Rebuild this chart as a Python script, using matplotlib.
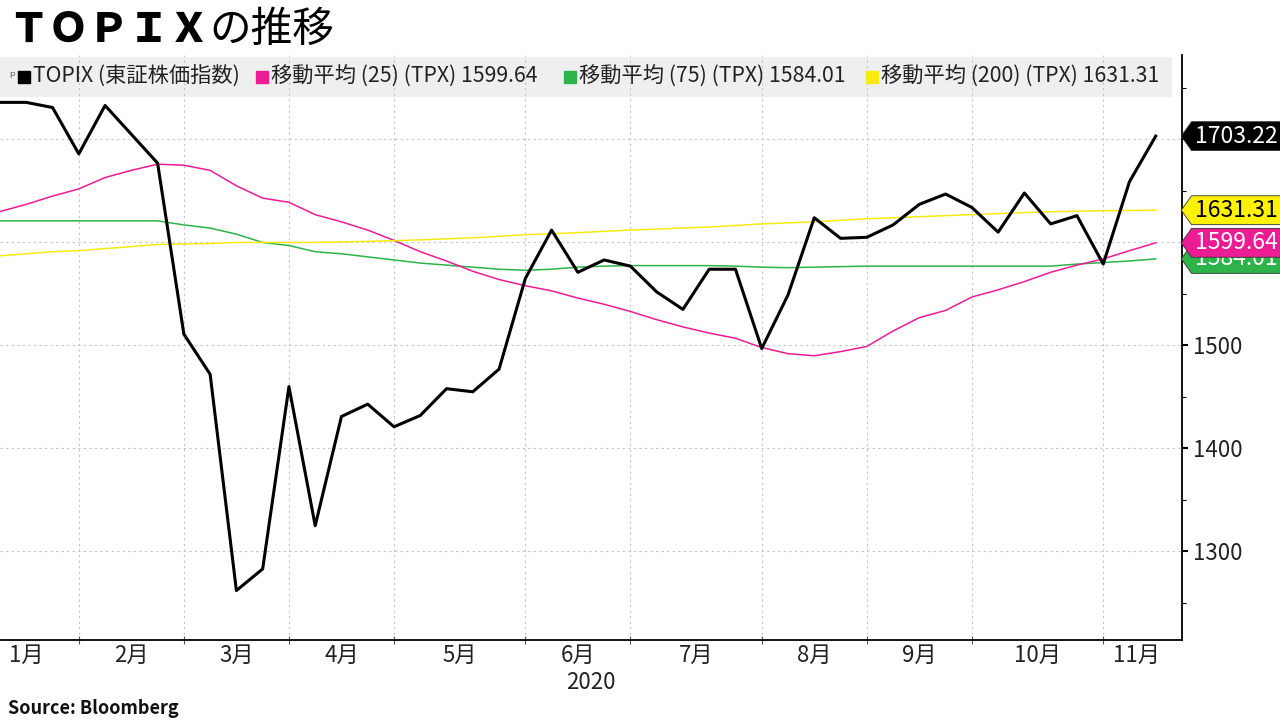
import matplotlib
matplotlib.use("Agg")
import matplotlib.pyplot as plt
import matplotlib.transforms as mtransforms
from matplotlib.path import Path
from matplotlib.patches import Rectangle
from matplotlib.ticker import MultipleLocator, FixedLocator, FuncFormatter
import numpy as np

plt.rcParams['font.family'] = ['Noto Sans CJK JP', 'DejaVu Sans']

# weekly closes, 2020 (week index 0 = mid January)
topix = [1736, 1736, 1731, 1686, 1733, 1705, 1677, 1511, 1472, 1262,
         1283, 1460, 1325, 1431, 1443, 1421, 1432, 1458, 1455, 1477,
         1565, 1612, 1571, 1583, 1577, 1552, 1535, 1574, 1574, 1497,
         1549, 1624, 1604, 1605, 1617, 1637, 1647, 1634, 1610, 1648,
         1618, 1626, 1579, 1659, 1703.22]
ma25 = [1630, 1637, 1645, 1652, 1663, 1670, 1676, 1675, 1670, 1655,
        1643, 1639, 1627, 1620, 1612, 1602, 1591, 1582, 1572, 1564,
        1558, 1553, 1546, 1540, 1533, 1525, 1518, 1512, 1507, 1498,
        1492, 1490, 1494, 1499, 1514, 1527, 1534, 1547, 1554, 1562,
        1571, 1578, 1584, 1592, 1599.64]
ma75 = [1621, 1621, 1621, 1621, 1621, 1621, 1621, 1617, 1614, 1608,
        1600, 1597, 1591, 1589, 1586, 1583, 1580, 1578, 1576, 1574,
        1573, 1574, 1576, 1577, 1577.5, 1577.5, 1577.5, 1577.5, 1577, 1576,
        1575.5, 1576, 1576.5, 1577, 1577, 1577, 1577, 1577, 1577, 1577,
        1577, 1579, 1580.5, 1582, 1584.01]
ma200 = [1587, 1589, 1591, 1592, 1594, 1596, 1598, 1598.5, 1599, 1600,
         1600, 1600, 1600, 1600.5, 1601, 1601.7, 1602.5, 1603.5, 1604.5, 1606,
         1607.5, 1608.5, 1609.5, 1610.8, 1612, 1613, 1614, 1615, 1616.5, 1618,
         1619, 1620, 1621.5, 1623, 1624, 1625, 1626, 1627, 1628, 1629,
         1629.8, 1630.3, 1630.8, 1631, 1631.31]
weeks = np.arange(len(topix))

month_labels = ['1月', '2月', '3月', '4月', '5月', '6月', '7月', '8月', '9月', '10月', '11月']
month_starts = [3, 7, 11, 15, 20, 24, 29, 33, 37, 42]   # first week of each month
month_bounds = [-1] + month_starts + [44.5]
month_mid = [(a + b) / 2 for a, b in zip(month_bounds[:-1], month_bounds[1:])]

c_black = '#000000'
c_pink = '#ec1c94'
c_green = '#2db34a'
c_yellow = '#f7ea10'

fig = plt.figure(figsize=(12.8, 7.2), dpi=100)
ax = fig.add_axes([0, 80 / 720, 1182 / 1280, 585 / 720])
ax.set_axisbelow(True)

ax.plot(weeks, ma75, color=c_green, lw=1.1, zorder=3)
ax.plot(weeks, ma25, color=c_pink, lw=1.1, zorder=4)
ax.plot(weeks, ma200, color=c_yellow, lw=1.1, zorder=4)
ax.plot(weeks, topix, color=c_black, lw=2.2, zorder=5)

ax.set_xlim(0, 45)
ax.set_ylim(1214, 1782)

for s in ['left', 'top']:
    ax.spines[s].set_visible(False)
ax.spines['right'].set_linewidth(1.3)
ax.spines['bottom'].set_linewidth(1.3)

last_vals = [topix[-1], ma25[-1], ma75[-1], ma200[-1]]


def ylab(v, pos):
    # labels sitting under a value tag are hidden, as in the reference
    if any(abs(v - lv) < 12 for lv in last_vals):
        return ''
    return f'{v:.0f}'


ax.yaxis.tick_right()
ax.yaxis.set_major_locator(MultipleLocator(100))
ax.yaxis.set_minor_locator(MultipleLocator(50))
ax.yaxis.set_major_formatter(FuncFormatter(ylab))
ax.tick_params(axis='y', which='major', direction='out', length=4, width=1.5,
               pad=4, labelsize=16, labelcolor='#222222')
ax.tick_params(axis='y', which='minor', direction='out', length=3, width=0.8)

ax.xaxis.set_major_locator(FixedLocator(month_starts))
ax.xaxis.set_minor_locator(FixedLocator(month_mid))
ax.xaxis.set_major_formatter(plt.NullFormatter())
ax.xaxis.set_minor_formatter(plt.FixedFormatter(month_labels))
ax.tick_params(axis='x', which='major', direction='inout', length=6, width=0.8, color='#555555')
ax.tick_params(axis='x', which='minor', length=0, pad=3, labelsize=16, labelcolor='#222222')

ax.grid(True, which='major', color='#c4c4c4', linestyle=(0, (2, 3)), linewidth=0.8)

ax.text(0.5, -0.072, '2020', transform=ax.transAxes, ha='center', va='center',
        fontsize=16, color='#222222')

# legend strip
ax.add_patch(Rectangle((0, 0.928), 0.9915, 0.0686, transform=ax.transAxes,
                       facecolor='#efefef', edgecolor='none', zorder=0.3, clip_on=False))
leg_y = 0.9624
ax.text(12 / 1182, leg_y, 'ᵖ', transform=ax.transAxes, va='center', ha='center',
        fontsize=10, color='#555555', family=['DejaVu Sans'], zorder=6)
legend_items = [
    (24, c_black, 'TOPIX (東証株価指数)'),
    (262, c_pink, '移動平均 (25) (TPX) 1599.64'),
    (570, c_green, '移動平均 (75) (TPX) 1584.01'),
    (872, c_yellow, '移動平均 (200) (TPX) 1631.31'),
]
for xpx, col, label in legend_items:
    ax.plot([xpx / 1182], [leg_y], marker='s', ms=9, color=col, transform=ax.transAxes,
            clip_on=False, zorder=6)
    ax.text((xpx + 9) / 1182, leg_y, label, transform=ax.transAxes, va='center',
            ha='left', fontsize=15.3, color='#222222', zorder=6)


# value tags on the right axis
def tag_box(x0, y0, width, height, mutation_size):
    cy = y0 + height / 2
    h = 0.63 * mutation_size
    tip = 0.45 * mutation_size
    x0 = x0 - 0.15 * mutation_size
    x1 = x0 + width + 0.4 * mutation_size
    verts = [(x0 - tip, cy), (x0, cy - h), (x1, cy - h), (x1, cy + h),
             (x0, cy + h), (x0 - tip, cy), (x0 - tip, cy)]
    codes = [Path.MOVETO] + [Path.LINETO] * 5 + [Path.CLOSEPOLY]
    return Path(verts, codes)


trans = mtransforms.blended_transform_factory(ax.transAxes, ax.transData)
tags = [
    (ma75[-1], c_green, 'white'),
    (ma25[-1], c_pink, 'white'),
    (ma200[-1], '#fff200', 'black'),
    (topix[-1], c_black, 'white'),
]
for i, (val, bg, fg) in enumerate(tags):
    ax.annotate(f'{val:.2f}', xy=(1, val), xycoords=trans, xytext=(13, 0),
                textcoords='offset pixels', va='center', ha='left', fontsize=16.5,
                color=fg, annotation_clip=False, zorder=10 + i,
                bbox=dict(boxstyle=tag_box, facecolor=bg, edgecolor='#333333', linewidth=0.6))

# title
t1 = fig.text(8 / 1280, 1 - 30 / 720, 'ＴＯＰＩＸ', fontsize=29, fontweight='heavy',
              va='center', ha='left', color='black')
ax.annotate('の推移', xy=(1, 0.5), xycoords=t1, va='center', ha='left',
            fontsize=30, color='black', annotation_clip=False)

fig.text(8 / 1280, 1 - 708 / 720, 'Source: Bloomberg', fontsize=13, fontweight='bold',
         va='center', ha='left', color='#111111')

fig.savefig('out.png', dpi=100)
